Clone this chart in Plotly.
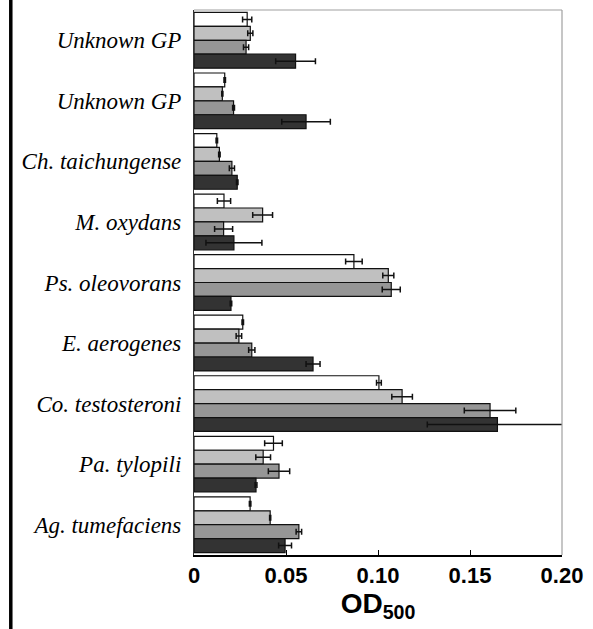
import plotly.graph_objects as go

categories = ["Unknown GP", "Unknown GP", "Ch. taichungense", "M. oxydans", "Ps. oleovorans",
              "E. aerogenes", "Co. testosteroni", "Pa. tylopili", "Ag. tumefaciens"]

s1_vals = [0.0289, 0.0167, 0.0124, 0.0163, 0.0869, 0.0265, 0.1005, 0.0432, 0.0305]
s1_err = [0.0025, 0.0004, 0.0004, 0.0036, 0.0045, 0.0004, 0.0013, 0.0048, 0.0004]
s2_vals = [0.0306, 0.0154, 0.0138, 0.0373, 0.1056, 0.0244, 0.1131, 0.0376, 0.0414]
s2_err = [0.0014, 0.0003, 0.0004, 0.0054, 0.0030, 0.0015, 0.0056, 0.0040, 0.0003]
s3_vals = [0.0283, 0.0215, 0.0206, 0.0161, 0.1072, 0.0314, 0.1609, 0.0462, 0.0570]
s3_err = [0.0014, 0.0005, 0.0014, 0.0049, 0.0049, 0.0017, 0.0140, 0.0058, 0.0015]
s4_vals = [0.0552, 0.0609, 0.0235, 0.0217, 0.0201, 0.0647, 0.1649, 0.0337, 0.0495]
s4_err = [0.0108, 0.0132, 0.0004, 0.0152, 0.0004, 0.0038, 0.0381, 0.0005, 0.0035]

colors = ["#ffffff", "#c0c0c0", "#969696", "#333333"]
series = [(s1_vals, s1_err), (s2_vals, s2_err), (s3_vals, s3_err), (s4_vals, s4_err)]

ypos = list(range(len(categories)))

fig = go.Figure()
for (vals, errs), col in zip(series, colors):
    fig.add_trace(go.Bar(
        x=vals, y=ypos, orientation="h",
        marker=dict(color=col, line=dict(color="#111111", width=1.2)),
        error_x=dict(type="data", array=errs, visible=True, color="#111111",
                     thickness=1.5, width=3),
        showlegend=False,
    ))

fig.update_layout(
    width=593, height=629,
    margin=dict(l=194, r=27, t=10, b=74),
    paper_bgcolor="white", plot_bgcolor="white",
    barmode="group", bargap=0.08, bargroupgap=0,
    xaxis=dict(range=[0, 0.2], tickvals=[0, 0.05, 0.10, 0.15, 0.20],
               ticktext=["0", "0.05", "0.10", "0.15", "0.20"],
               ticks="inside", ticklen=5, tickwidth=1.2, tickcolor="black",
               showline=True, linecolor="black", linewidth=1.5,
               showgrid=False, zeroline=False,
               tickfont=dict(family="Liberation Sans, Arial", size=22, color="black", weight="bold"),
               title=dict(text="OD<sub>500</sub>", standoff=6,
                          font=dict(family="Liberation Sans, Arial", size=28, color="black", weight="bold"))),
    yaxis=dict(range=[8.5, -0.5], tickvals=ypos, ticktext=categories,
               showline=True, linecolor="#333333", linewidth=1.2,
               showgrid=False, zeroline=False, ticks="", ticklabelstandoff=7,
               tickfont=dict(family="Liberation Serif, Times New Roman", size=23, color="black", style="italic")),
    shapes=[
        dict(type="line", xref="paper", yref="paper", x0=0, x1=1, y0=1, y1=1,
             line=dict(color="#a0a0a0", width=1.2)),
        dict(type="line", xref="paper", yref="paper", x0=1, x1=1, y0=0, y1=1,
             line=dict(color="#a0a0a0", width=1.2)),
        dict(type="line", xref="paper", yref="paper", x0=(8.8 - 194) / 372, x1=(8.8 - 194) / 372,
             y0=-0.2, y1=1.05, line=dict(color="black", width=3.5)),
    ],
)

fig.write_html("out.html")
